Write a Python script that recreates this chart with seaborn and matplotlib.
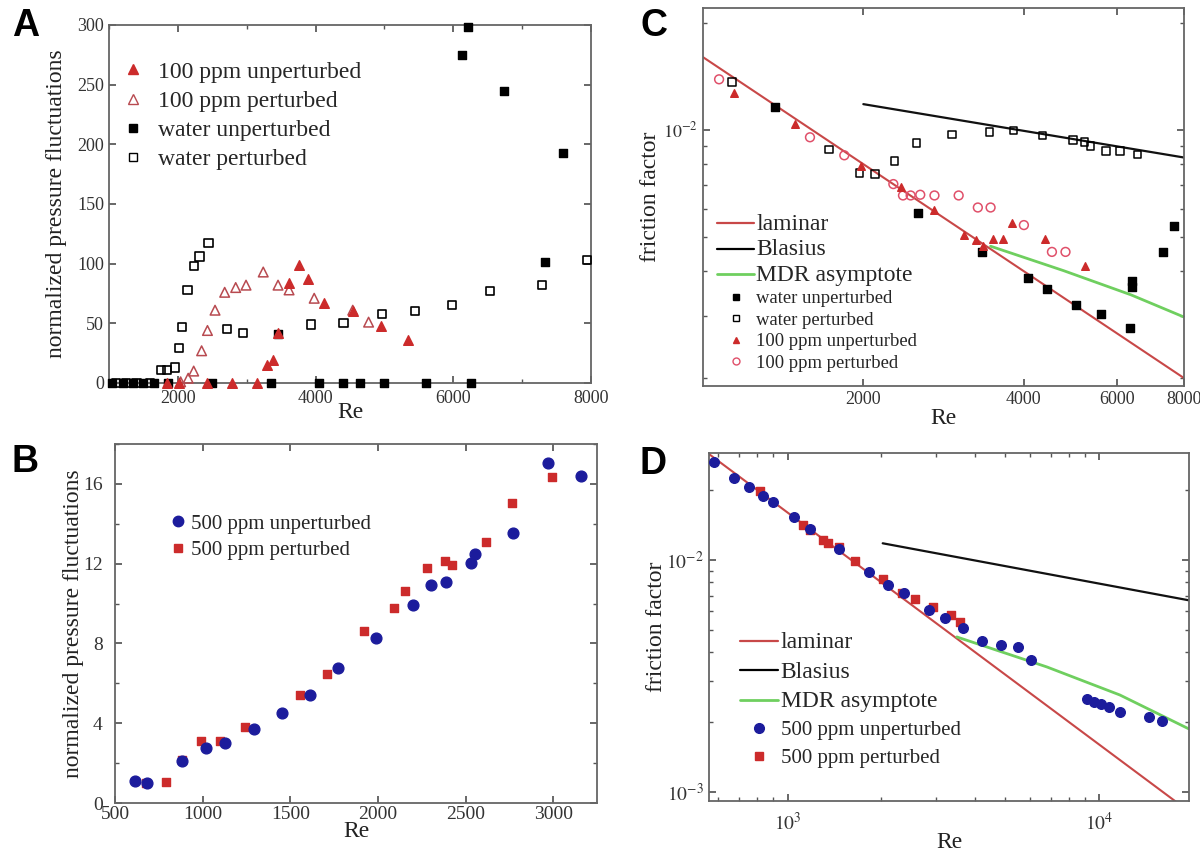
import numpy as np
import matplotlib
matplotlib.use("Agg")
import matplotlib.pyplot as plt
from matplotlib.lines import Line2D
from matplotlib.ticker import FixedLocator, NullLocator, LogLocator, NullFormatter, FixedFormatter
import seaborn as sns

# ---------------- data: panel A ----------------
a_wu_re = [1050, 1200, 1350, 1500, 1650, 1850, 2500, 3350, 3460, 4050, 4400, 4650, 5000, 5600, 6120, 6220, 6250, 6740, 7330, 7600]
a_wu_y = [0, 0, 0, 0, 0, 0, 0, 0, 41, 0, 0, 0, 0, 0, 275, 298, 0, 245, 101, 193]
a_wp_re = [1100, 1250, 1400, 1600, 1760, 1840, 1960, 2020, 2065, 2140, 2230, 2315, 2445, 2720, 2950, 3940, 4405, 4960, 5450, 5985, 6535, 7290, 7945]
a_wp_y = [0, 0, 0, 0, 11, 11, 13, 29, 47, 78, 98, 106, 117, 45, 42, 49, 50, 58, 60, 65, 77, 82, 103]
a_pu_re = [1840, 2010, 2430, 2780, 3155, 3295, 3380, 3460, 3615, 3755, 3885, 4125, 4540, 4950, 5340]
a_pu_y = [0, 0, 0, 0, 0, 15, 19, 42, 84, 99, 87, 67, 60, 48, 36]
a_pp_re = [2040, 2150, 2230, 2345, 2430, 2540, 2680, 2840, 2990, 3240, 3455, 3615, 3980, 4540, 4770]
a_pp_y = [1, 4, 10, 27, 44, 61, 76, 80, 82, 93, 82, 78, 71, 61, 51]

# ---------------- data: panel B ----------------
b_u_re = [614, 685, 880, 1017, 1126, 1291, 1452, 1614, 1775, 1990, 2199, 2302, 2390, 2529, 2555, 2768, 2968, 3160]
b_u_y = [1.09, 1.0, 2.1, 2.76, 3.02, 3.69, 4.52, 5.41, 6.79, 8.26, 9.92, 10.92, 11.09, 12.03, 12.48, 13.52, 17.06, 16.42]
b_p_re = [676, 792, 885, 988, 1100, 1241, 1555, 1709, 1918, 2094, 2153, 2280, 2384, 2423, 2617, 2764, 2995]
b_p_y = [1.0, 1.04, 2.18, 3.1, 3.1, 3.8, 5.41, 6.45, 8.6, 9.8, 10.64, 11.76, 12.11, 11.93, 13.07, 15.04, 16.34]

# ---------------- data: panel C ----------------
c_wu_re = [1367, 2536, 3336, 4074, 4426, 5012, 5583, 6325, 6380, 6400, 7320, 7660]
c_wu_f = [0.01156, 0.00583, 0.00454, 0.00383, 0.00357, 0.00322, 0.00303, 0.00277, 0.00361, 0.00375, 0.00452, 0.00537]
c_wp_re = [1133, 1722, 1967, 2105, 2288, 2516, 2937, 3448, 3829, 4337, 4955, 5200, 5338, 5703, 6066, 6538]
c_wp_f = [0.01362, 0.0088, 0.00755, 0.0075, 0.00817, 0.00918, 0.00969, 0.00985, 0.00996, 0.00962, 0.00934, 0.00922, 0.00899, 0.0087, 0.0087, 0.00852]
c_pu_re = [1143, 1491, 1977, 2355, 2711, 3096, 3253, 3362, 3508, 3655, 3810, 4388, 5224]
c_pu_f = [0.0127, 0.0104, 0.00791, 0.00689, 0.00593, 0.00505, 0.0049, 0.00472, 0.00493, 0.00493, 0.00545, 0.00493, 0.00413]
c_pp_re = [1072, 1588, 1842, 2277, 2374, 2454, 2558, 2720, 3020, 3281, 3467, 4004, 4520, 4793]
c_pp_f = [0.01386, 0.00952, 0.00847, 0.00703, 0.00653, 0.00653, 0.00656, 0.00653, 0.00653, 0.00604, 0.00604, 0.00539, 0.00453, 0.00453]
c_lam_re = [1000, 8000]
c_lam_f = [0.016, 0.002]
c_bla_re = [2000, 8000]
c_bla_f = [0.0118, 0.00835]
c_mdr_re = [3467, 4757, 6361, 8000]
c_mdr_f = [0.0047, 0.00401, 0.00343, 0.00297]

# ---------------- data: panel D ----------------
d_u_re = [583, 676, 752, 835, 901, 1046, 1181, 1468, 1828, 2100, 2371, 2851, 3190, 3651, 4206, 4842, 5497, 6019,
          9120, 9590, 10150, 10740, 11620, 14420, 15850]
d_u_f = [0.0265, 0.0225, 0.0207, 0.0189, 0.0178, 0.01528, 0.01355, 0.01112, 0.0089, 0.0078, 0.00718, 0.00609, 0.00561,
         0.00508, 0.00449, 0.0043, 0.0042, 0.00371, 0.00251, 0.00245, 0.00239, 0.00233, 0.00222, 0.0021, 0.00202]
d_p_re = [818, 1122, 1181, 1300, 1349, 1468, 1643, 2018, 2338, 2566, 2930, 3355, 3568]
d_p_f = [0.0199, 0.01415, 0.0135, 0.0122, 0.0118, 0.0114, 0.0099, 0.00826, 0.00718, 0.00677, 0.0063, 0.0058, 0.00539]
d_lam_re = [560, 19400]
d_lam_f = [0.0286, 0.000825]
d_bla_re = [2020, 19400]
d_bla_f = [0.0118, 0.0067]
d_mdr_re = [3490, 6790, 11640, 19400]
d_mdr_f = [0.00466, 0.00346, 0.00262, 0.00187]

# ---------------- style ----------------
RED = "#cc2b2b"
RED_OPEN = "#b84a50"
PINK = "#e0506a"
BLUE = "#1c1c9c"
LAM = "#c84848"
GREEN = "#6fcf5f"
SERIF = ["Liberation Serif", "DejaVu Serif"]

sns.set_theme(style="ticks")
plt.rcParams["font.family"] = SERIF
plt.rcParams["mathtext.fontset"] = "stix"
plt.rcParams.update({
    "xtick.direction": "in", "ytick.direction": "in",
    "xtick.top": True, "ytick.right": True,
    "xtick.major.size": 5, "ytick.major.size": 5,
    "xtick.minor.size": 3, "ytick.minor.size": 3,
    "xtick.color": "#555555", "ytick.color": "#555555",
    "xtick.labelcolor": "#333333", "ytick.labelcolor": "#333333",
    "axes.edgecolor": "#666666", "axes.linewidth": 1.3,
})

W, H = 1200, 859
fig = plt.figure(figsize=(12, 8.59), dpi=100)


def rect(l, r, t, b):
    return [l / W, 1 - b / H, (r - l) / W, (b - t) / H]


def pts(ax, x, y, marker, size, color, filled=True, lw=1.0, clip=False):
    sns.scatterplot(x=x, y=y, marker=marker, s=size, color=color, edgecolor=color,
                    linewidth=lw, ax=ax, legend=False, zorder=3)
    coll = ax.collections[-1]
    coll.set_clip_on(clip)
    if not filled:
        coll.set_facecolor("none")


def line(ax, x, y, color, lw):
    sns.lineplot(x=x, y=y, color=color, lw=lw, ax=ax, legend=False, sort=False, estimator=None, zorder=2)


def labels(ax, xlab, ylab, xlab_y, ylab_x, size=17):
    ax.set_xlabel(xlab, fontsize=size, color="#222222")
    ax.set_ylabel(ylab, fontsize=size, color="#222222")
    ax.xaxis.label.set_va("center")
    ax.yaxis.label.set_va("center")
    ax.xaxis.set_label_coords(0.5, xlab_y)
    ax.yaxis.set_label_coords(ylab_x, 0.5)


def mk(marker, color, filled=True, ms=6, lw=1.0):
    return Line2D([], [], ls="none", marker=marker, ms=ms, color=color, mec=color,
                  mfc=color if filled else "none", mew=lw)


def ln(color, lw):
    return Line2D([], [], color=color, lw=lw)


def fig_legend(ax, handles, labels_, x, y, fs, hl, htp, ls):
    return ax.legend(handles, labels_, loc="upper left", bbox_to_anchor=(x / W, 1 - y / H),
                     bbox_transform=fig.transFigure, frameon=False, fontsize=fs, borderpad=0,
                     borderaxespad=0, handlelength=hl, handletextpad=htp, labelspacing=ls)


# ---------------- Panel A ----------------
axA = fig.add_axes(rect(109, 591, 25, 383))
pts(axA, a_wp_re, a_wp_y, "s", 34, "black", filled=False, lw=1.2)
pts(axA, a_wu_re, a_wu_y, "s", 34, "black")
pts(axA, a_pp_re, a_pp_y, "^", 48, RED_OPEN, filled=False, lw=1.1)
pts(axA, a_pu_re, a_pu_y, "^", 48, RED)
axA.set_xlim(1000, 8000)
axA.set_ylim(0, 300)
axA.xaxis.set_major_locator(FixedLocator([2000, 4000, 6000, 8000]))
axA.xaxis.set_minor_locator(FixedLocator([1000, 3000, 5000, 7000]))
axA.yaxis.set_major_locator(FixedLocator([0, 50, 100, 150, 200, 250, 300]))
axA.tick_params(labelsize=13)
axA.tick_params(axis="x", which="major", pad=5)
labels(axA, "Re", "normalized pressure fluctuations", -0.082, -0.108)
fig_legend(axA, [mk("^", RED, True, 7), mk("^", RED_OPEN, False, 7), mk("s", "black", True, 5.5), mk("s", "black", False, 5.5)],
           ["100 ppm unperturbed", "100 ppm perturbed", "water unperturbed", "water perturbed"],
           121, 61, 17, 1.0, 0.55, 0.33)

# ---------------- Panel B ----------------
axB = fig.add_axes(rect(115, 597, 444, 803))
pts(axB, b_p_re, b_p_y, "s", 40, RED)
pts(axB, b_u_re, b_u_y, "o", 60, BLUE)
axB.set_xlim(500, 3250)
axB.set_ylim(0, 18)
axB.xaxis.set_major_locator(FixedLocator([500, 1000, 1500, 2000, 2500, 3000]))
axB.yaxis.set_major_locator(FixedLocator([0, 4, 8, 12, 16]))
axB.yaxis.set_minor_locator(FixedLocator([2, 6, 10, 14, 18]))
axB.tick_params(labelsize=14)
axB.tick_params(axis="x", which="major", pad=2)
axB.tick_params(axis="y", which="major", pad=9)
labels(axB, "Re", "normalized pressure fluctuations", -0.08, -0.087)
fig_legend(axB, [mk("o", BLUE, True, 7.5), mk("s", RED, True, 6)],
           ["500 ppm unperturbed", "500 ppm perturbed"], 170, 514, 15, 0.8, 0.2, 0.34)

# ---------------- Panel C ----------------
axC = fig.add_axes(rect(703, 1184, 8, 386))
axC.set_xscale("log")
axC.set_yscale("log")
line(axC, c_lam_re, c_lam_f, LAM, 1.5)
line(axC, c_bla_re, c_bla_f, "#111111", 1.6)
line(axC, c_mdr_re, c_mdr_f, GREEN, 2.0)
pts(axC, c_wp_re, c_wp_f, "s", 30, "black", filled=False, lw=1.1)
pts(axC, c_wu_re, c_wu_f, "s", 30, "black")
pts(axC, c_pp_re, c_pp_f, "o", 40, PINK, filled=False, lw=1.1)
pts(axC, c_pu_re, c_pu_f, "^", 30, RED)
axC.set_xlim(1000, 8000)
axC.set_ylim(0.0019, 0.022)
axC.xaxis.set_major_locator(FixedLocator([2000, 4000, 6000, 8000]))
axC.xaxis.set_major_formatter(FixedFormatter(["2000", "4000", "6000", "8000"]))
axC.xaxis.set_minor_locator(NullLocator())
axC.yaxis.set_major_locator(FixedLocator([0.01]))
axC.yaxis.set_major_formatter(FixedFormatter([r"$10^{-2}$"]))
axC.yaxis.set_minor_locator(LogLocator(base=10, subs=np.arange(2, 10)))
axC.yaxis.set_minor_formatter(NullFormatter())
axC.tick_params(labelsize=13)
labels(axC, "Re", "friction factor", -0.085, -0.11)
legC = fig_legend(axC, [ln(LAM, 1.6), ln("black", 1.6), ln(GREEN, 2.0), mk("s", "black", True, 4.5),
                        mk("s", "black", False, 4.5), mk("^", RED, True, 5), mk("o", PINK, False, 5)],
                  ["laminar", "Blasius", "MDR asymptote", "water unperturbed", "water perturbed",
                   "100 ppm unperturbed", "100 ppm perturbed"], 717, 214, 13.4, 2.0, 0.1, 0.24)
for t in legC.get_texts()[:3]:
    t.set_fontsize(17)

# ---------------- Panel D ----------------
axD = fig.add_axes(rect(709, 1189, 453, 801))
axD.set_xscale("log")
axD.set_yscale("log")
line(axD, d_lam_re, d_lam_f, LAM, 1.5)
line(axD, d_bla_re, d_bla_f, "#111111", 1.6)
line(axD, d_mdr_re, d_mdr_f, GREEN, 2.0)
pts(axD, d_p_re, d_p_f, "s", 38, RED, clip=True)
pts(axD, d_u_re, d_u_f, "o", 48, BLUE, clip=True)
axD.set_xlim(560, 19400)
axD.set_ylim(0.000915, 0.0289)
axD.xaxis.set_major_locator(FixedLocator([1000, 10000]))
axD.xaxis.set_major_formatter(FixedFormatter([r"$10^{3}$", r"$10^{4}$"]))
axD.xaxis.set_minor_locator(LogLocator(base=10, subs=np.arange(2, 10)))
axD.xaxis.set_minor_formatter(NullFormatter())
axD.yaxis.set_major_locator(FixedLocator([0.001, 0.01]))
axD.yaxis.set_major_formatter(FixedFormatter([r"$10^{-3}$", r"$10^{-2}$"]))
axD.yaxis.set_minor_locator(LogLocator(base=10, subs=np.arange(2, 10)))
axD.yaxis.set_minor_formatter(NullFormatter())
axD.tick_params(labelsize=14)
axD.tick_params(axis="x", which="major", pad=8)
labels(axD, "Re", "friction factor", -0.12, -0.11)
legD = fig_legend(axD, [ln(LAM, 1.6), ln("black", 1.6), ln(GREEN, 2.0), mk("o", BLUE, True, 7), mk("s", RED, True, 5.5)],
                  ["laminar", "Blasius", "MDR asymptote", "500 ppm unperturbed", "500 ppm perturbed"],
                  740, 632, 15, 1.8, 0.15, 0.41)
for t in legD.get_texts()[:3]:
    t.set_fontsize(17)

# ---------------- panel letters ----------------
for letter, x, y in [("A", 12, 8), ("B", 12, 444), ("C", 640, 8), ("D", 640, 446)]:
    fig.text(x / W, 1 - y / H, letter, fontsize=27, fontweight="bold", va="top", ha="left",
             family=["Liberation Sans", "DejaVu Sans"], color="black")

fig.savefig("out.png", dpi=100)
